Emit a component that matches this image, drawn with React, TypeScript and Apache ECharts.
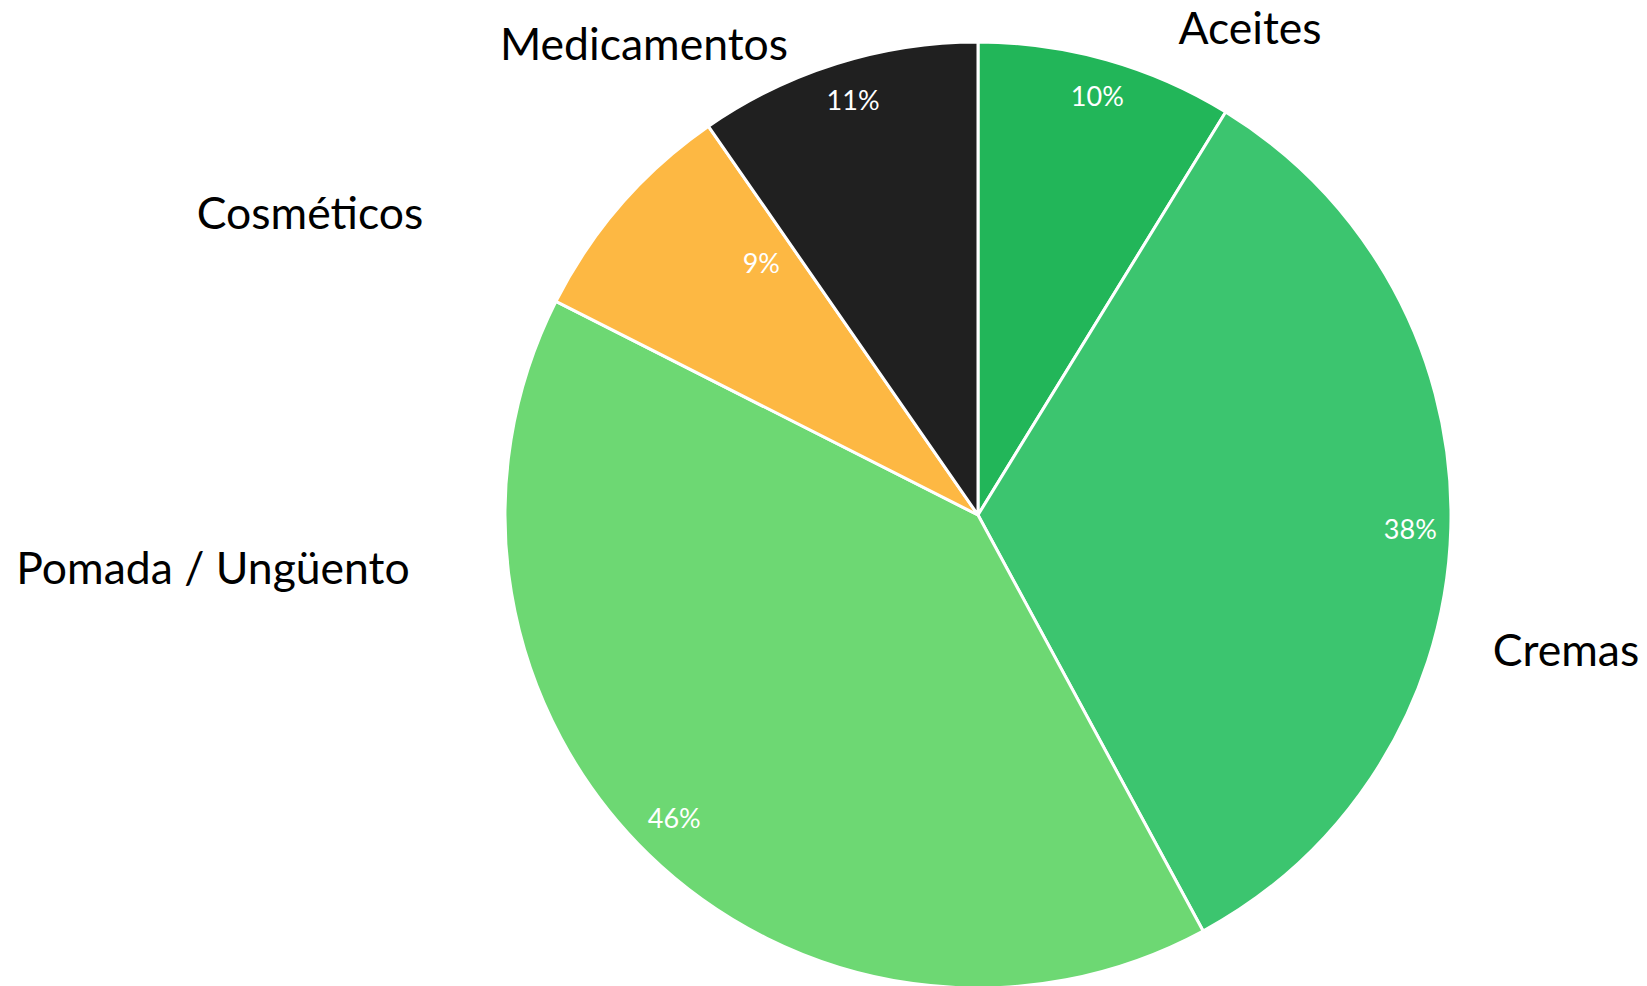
import React, { useEffect, useRef } from "react";
import * as echarts from "echarts";

const categories = ["Aceites", "Cremas", "Pomada / Ungüento", "Cosméticos", "Medicamentos"];
const values = [10, 38, 46, 9, 11];
const colors = ["#22B659", "#3CC56F", "#6DD873", "#FDB843", "#202020"];

// layout: outer category label anchor positions (px)
const outerLabelPos: [number, number][] = [
  [1250, 26],
  [1566, 648],
  [213, 566],
  [310, 211],
  [644, 42],
];

// layout: small nudges of the inner percentage labels (px)
const innerLabelShift: [number, number][] = [
  [0, 2],
  [-6, 1],
  [2, -12],
  [114, 35],
  [6, 3],
];

export default function App() {
  const ref = useRef<HTMLDivElement>(null);
  useEffect(() => {
    document.body.style.margin = "0";
    if (!ref.current) return;
    const chart = echarts.init(ref.current, null, { renderer: "svg" });
    const data = categories.map((name, i) => ({
      name,
      value: values[i],
      itemStyle: { color: colors[i] },
    }));
    const cx = 978;
    const cy = 515;
    const R = 473;
    chart.setOption({
      animation: false,
      backgroundColor: "#ffffff",
      series: [
        {
          type: "pie",
          center: [cx, cy],
          radius: [0, R],
          startAngle: 90,
          clockwise: true,
          avoidLabelOverlap: false,
          itemStyle: { borderColor: "#ffffff", borderWidth: 3 },
          label: {
            show: true,
            position: "outside",
            formatter: "{b}",
            fontFamily: "Lato",
            fontSize: 44.5,
            color: "#000000",
          },
          labelLine: { show: false },
          labelLayout: (p: any) => {
            const pos = outerLabelPos[p.dataIndex];
            return { x: pos[0], y: pos[1], align: "center", verticalAlign: "middle" };
          },
          emphasis: { disabled: true },
          data,
        },
        {
          type: "pie",
          center: [cx, cy],
          radius: [R - 75, R],
          startAngle: 90,
          clockwise: true,
          silent: true,
          avoidLabelOverlap: false,
          itemStyle: { color: "transparent", borderWidth: 0 },
          label: {
            show: true,
            position: "inside",
            formatter: "{c}%",
            fontFamily: "Lato",
            fontSize: 27,
            color: "#ffffff",
          },
          labelLine: { show: false },
          labelLayout: (p: any) => {
            const s = innerLabelShift[p.dataIndex];
            return { dx: s[0], dy: s[1] };
          },
          emphasis: { disabled: true },
          data: categories.map((name, i) => ({ name, value: values[i] })),
        },
      ],
    });
    return () => chart.dispose();
  }, []);
  return <div ref={ref} style={{ width: 1647, height: 986 }} />;
}
